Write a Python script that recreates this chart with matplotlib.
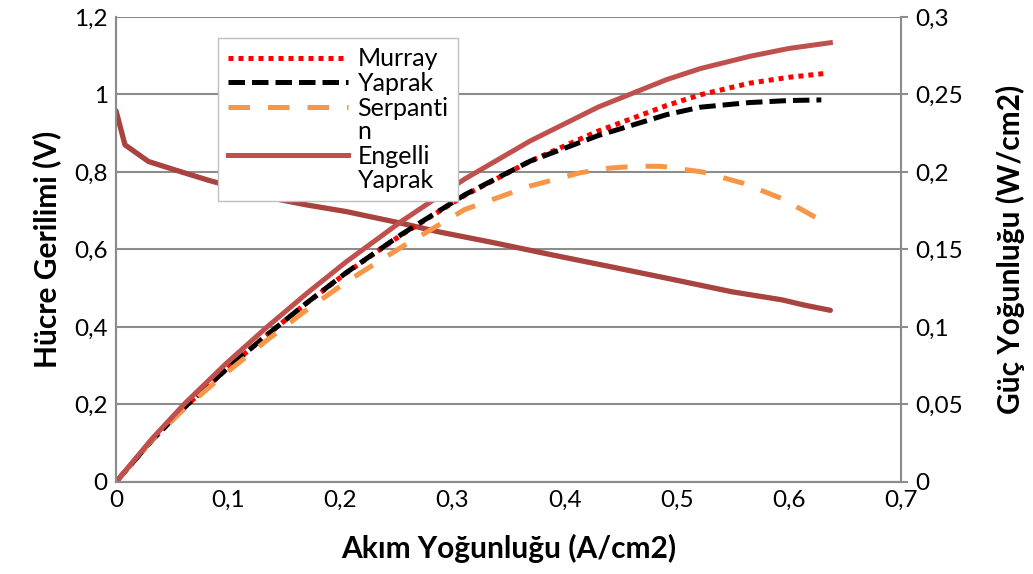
import numpy as np
import matplotlib.pyplot as plt
from matplotlib.ticker import FuncFormatter, MultipleLocator
from matplotlib.legend_handler import HandlerLine2D

plt.rcParams['font.family'] = ['Lato', 'DejaVu Sans']

# Hücre gerilimi (polarizasyon eğrisi)
i_volt = [0, 0.008, 0.029, 0.053, 0.082, 0.11, 0.14, 0.17, 0.205, 0.254, 0.287,
          0.336, 0.389, 0.442, 0.491, 0.549, 0.594, 0.613, 0.637]
volt = [0.958, 0.87, 0.827, 0.805, 0.779, 0.757, 0.732, 0.715, 0.698, 0.668, 0.646,
        0.618, 0.586, 0.555, 0.526, 0.491, 0.47, 0.457, 0.443]

# Güç yoğunluğu eğrileri
i_murray = [0, 0.032, 0.061, 0.098, 0.135, 0.17, 0.205, 0.254, 0.311, 0.369,
            0.43, 0.491, 0.521, 0.565, 0.6, 0.634]
p_murray = [0, 0.0269, 0.0481, 0.0725, 0.0951, 0.1154, 0.1347, 0.1592, 0.1849, 0.2069,
            0.2264, 0.2429, 0.2498, 0.2573, 0.2611, 0.2637]

i_yaprak = [0, 0.032, 0.061, 0.098, 0.135, 0.17, 0.205, 0.254, 0.311, 0.369,
            0.43, 0.491, 0.521, 0.565, 0.6, 0.629]
p_yaprak = [0, 0.0269, 0.0481, 0.0725, 0.0951, 0.1155, 0.1349, 0.1595, 0.1853, 0.2069,
            0.2235, 0.237, 0.2418, 0.2448, 0.2461, 0.2465]

i_serp = [0, 0.032, 0.061, 0.098, 0.135, 0.17, 0.205, 0.254, 0.311, 0.369, 0.414,
          0.44, 0.465, 0.487, 0.523, 0.559, 0.594, 0.635]
p_serp = [0, 0.0272, 0.0473, 0.0702, 0.0917, 0.111, 0.1289, 0.1513, 0.1758, 0.1909, 0.1995,
          0.2025, 0.2038, 0.2036, 0.2, 0.1928, 0.1828, 0.1662]

i_engelli = [0, 0.032, 0.061, 0.098, 0.135, 0.17, 0.205, 0.254, 0.311, 0.369,
             0.43, 0.491, 0.521, 0.565, 0.6, 0.637]
p_engelli = [0, 0.0278, 0.0504, 0.0763, 0.1002, 0.1216, 0.1419, 0.1679, 0.1955, 0.2199,
             0.2419, 0.2596, 0.2667, 0.2746, 0.2797, 0.2834]

grid_col = '#8C8C8C'


class TopLineHandler(HandlerLine2D):
    # iki satırlı etiketlerde çizgiyi ilk satıra hizala
    def create_artists(self, legend, orig_handle, xdescent, ydescent, width,
                       height, fontsize, trans):
        arts = super().create_artists(legend, orig_handle, xdescent, ydescent,
                                      width, height, fontsize, trans)
        for a in arts:
            a.set_ydata(np.asarray(a.get_ydata()) + 0.55 * fontsize)
        return arts


fig = plt.figure(figsize=(10.33, 5.74), dpi=100)
ax = fig.add_axes([0.1123, 0.1603, 0.7599, 0.8101])
ax2 = ax.twinx()

ax.plot(i_volt, volt, color='#A9433F', lw=3.8, solid_capstyle='round', zorder=3)

l1, = ax2.plot(i_murray, p_murray, color='#FF0000', lw=3.6, linestyle=(0, (1.0, 1.0)), label='Murray')
l2, = ax2.plot(i_yaprak, p_yaprak, color='black', lw=3.6, linestyle=(0, (3.3, 1.4)), label='Yaprak')
l3, = ax2.plot(i_serp, p_serp, color='#F79646', lw=3.6, linestyle=(0, (4.3, 3.6)), label='Serpanti\nn')
l4, = ax2.plot(i_engelli, p_engelli, color='#C0504D', lw=3.6, label='Engelli\nYaprak')

ax.set_xlim(0, 0.7)
ax.set_ylim(0, 1.2)
ax2.set_ylim(0, 0.3)
ax.xaxis.set_major_locator(MultipleLocator(0.1))
ax.yaxis.set_major_locator(MultipleLocator(0.2))
ax2.yaxis.set_major_locator(MultipleLocator(0.05))

fmt = FuncFormatter(lambda v, p: f'{v:.10g}'.replace('.', ','))
ax.xaxis.set_major_formatter(fmt)
ax.yaxis.set_major_formatter(fmt)
ax2.yaxis.set_major_formatter(fmt)

ax.grid(axis='y', color=grid_col, lw=1.5)
ax.set_axisbelow(True)

for a in (ax, ax2):
    a.spines['top'].set_visible(False)
    for s in ('left', 'right', 'bottom'):
        a.spines[s].set_color(grid_col)
        a.spines[s].set_linewidth(1.5)

ax.tick_params(axis='both', length=0, labelsize=17.5)
ax.tick_params(axis='y', pad=6)
ax.tick_params(axis='x', pad=6)
ax2.tick_params(axis='y', length=5, width=1.5, color=grid_col, labelsize=17.5, pad=5)

ax.set_xlabel('Akım Yoğunluğu (A/cm2)', fontsize=21.5, fontweight='bold', labelpad=16)
ax.set_ylabel('Hücre Gerilimi (V)', fontsize=21.5, fontweight='bold', labelpad=9)
ax2.set_ylabel('Güç Yoğunluğu (W/cm2)', fontsize=21.5, fontweight='bold', labelpad=24)

leg = ax2.legend(handles=[l1, l2, l3, l4], loc='upper left',
                 bbox_to_anchor=(218 / 1033, 1 - 38 / 574),
                 bbox_transform=fig.transFigure, fontsize=18, frameon=True,
                 fancybox=False, edgecolor='#BFBFBF', framealpha=1,
                 handlelength=4.8, handletextpad=0.4, borderpad=0.38,
                 labelspacing=0.06, borderaxespad=0,
                 handler_map={l3: TopLineHandler(), l4: TopLineHandler()})
leg.get_frame().set_linewidth(1.0)
for t in leg.get_texts():
    t.set_linespacing(1.05)

fig.savefig('out.png', dpi=100)
